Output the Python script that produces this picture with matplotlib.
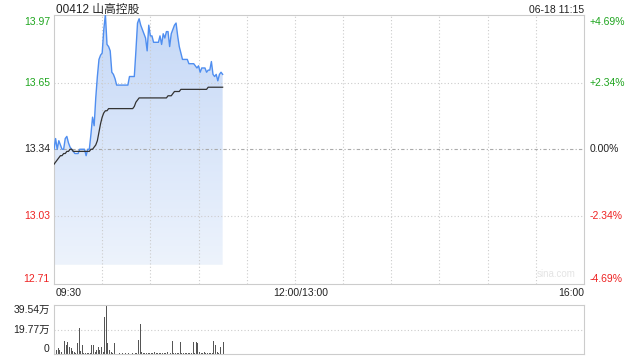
import numpy as np
import matplotlib.pyplot as plt
from matplotlib.colors import LinearSegmentedColormap
from matplotlib.patches import Polygon

plt.rcParams['font.family'] = ['Liberation Sans', 'Noto Sans CJK SC', 'DejaVu Sans']

title = "00412 山高控股"
stamp = "06-18 11:15"
prev_close = 13.34

# minute prices from 09:30 to 11:15
price = [13.34, 13.39, 13.34, 13.38, 13.36, 13.34, 13.34, 13.39, 13.40, 13.37,
         13.35, 13.34, 13.33, 13.32, 13.32, 13.32, 13.34, 13.34, 13.34, 13.34,
         13.31, 13.34, 13.34, 13.41, 13.49, 13.45, 13.58, 13.68, 13.76, 13.78,
         13.79, 13.90, 13.97, 13.83, 13.82, 13.80, 13.70, 13.69, 13.67, 13.64,
         13.64, 13.64, 13.64, 13.64, 13.64, 13.64, 13.64, 13.68, 13.68, 13.68,
         13.68, 13.80, 13.93, 13.95, 13.92, 13.90, 13.88, 13.86, 13.80, 13.92,
         13.87, 13.87, 13.84, 13.84, 13.84, 13.84, 13.87, 13.83, 13.88, 13.86,
         13.89, 13.89, 13.82, 13.88, 13.90, 13.92, 13.93, 13.87, 13.82, 13.79,
         13.76, 13.76, 13.76, 13.76, 13.74, 13.74, 13.74, 13.74, 13.73, 13.72,
         13.73, 13.70, 13.72, 13.72, 13.72, 13.70, 13.71, 13.71, 13.75, 13.69,
         13.68, 13.69, 13.66, 13.69, 13.70, 13.69]

avg_price = [13.27, 13.28, 13.29, 13.30, 13.31, 13.31, 13.32, 13.32, 13.33, 13.33,
             13.34, 13.34, 13.33, 13.33, 13.33, 13.33, 13.33, 13.33, 13.33, 13.33,
             13.33, 13.33, 13.33, 13.34, 13.34, 13.35, 13.36, 13.38, 13.42, 13.46,
             13.49, 13.51, 13.52, 13.52, 13.53, 13.53, 13.53, 13.53, 13.53, 13.53,
             13.53, 13.53, 13.53, 13.53, 13.53, 13.53, 13.53, 13.53, 13.53, 13.53,
             13.54, 13.56, 13.57, 13.58, 13.58, 13.58, 13.58, 13.58, 13.58, 13.58,
             13.58, 13.58, 13.58, 13.58, 13.58, 13.58, 13.58, 13.58, 13.58, 13.58,
             13.58, 13.59, 13.59, 13.59, 13.60, 13.61, 13.61, 13.61, 13.61, 13.62,
             13.62, 13.62, 13.62, 13.62, 13.62, 13.62, 13.62, 13.62, 13.62, 13.62,
             13.62, 13.62, 13.62, 13.62, 13.62, 13.62, 13.63, 13.63, 13.63, 13.63,
             13.63, 13.63, 13.63, 13.63, 13.63, 13.63]

# volume in 万
volume = [19.5, 3.5, 4.8, 3.0, 2.0, 1.5, 10.7, 7.5, 10.0, 6.0,
          4.8, 2.7, 1.6, 1.0, 8.8, 20.8, 2.7, 7.5, 0.8, 0.8,
          0.8, 0.8, 1.0, 7.0, 7.5, 2.0, 3.5, 5.3, 3.5, 6.0,
          1.5, 30.2, 39.54, 8.8, 3.5, 1.6, 0.8, 8.8, 0.5, 0.4,
          0.5, 0.4, 0.5, 0.4, 0.5, 0.4, 0.5, 0.4, 0.5, 0.4,
          0.5, 0.5, 11.5, 24.0, 1.6, 0.8, 0.6, 1.0, 0.5, 1.2,
          0.6, 0.8, 1.6, 0.5, 1.2, 0.6, 0.8, 1.0, 0.6, 1.2,
          2.0, 3.5, 1.2, 10.7, 0.8, 0.6, 0.8, 1.0, 10.0, 0.6,
          1.2, 0.5, 0.8, 0.6, 1.0, 1.2, 10.0, 0.8, 9.4, 8.8,
          1.6, 0.6, 0.8, 2.0, 0.6, 1.0, 0.8, 0.6, 1.0, 10.7,
          7.5, 1.6, 0.8, 5.3, 0.6, 10.0]

price_ticks = [13.97, 13.65, 13.34, 13.03, 12.71]
pct_labels = ["+4.69%", "+2.34%", "0.00%", "-2.34%", "-4.69%"]
vol_ticks = [39.54, 19.77, 0]
vol_labels = ["39.54万", "19.77万", "0"]
time_labels = ["09:30", "12:00/13:00", "16:00"]

GREEN = '#1ea51e'
RED = '#ee2222'
tick_colors = [GREEN, GREEN, '#222222', RED, RED]

t = np.arange(len(price))
total_minutes = 330

fig = plt.figure(figsize=(6.4, 3.6), dpi=100)
W, H = 640, 360
ax = fig.add_axes([54 / W, 1 - 284 / H, 530 / W, (284 - 14.5) / H])
axv = fig.add_axes([54 / W, 1 - 354 / H, 530 / W, 49 / H])

lo, hi = price_ticks[-1], price_ticks[0]
ax.set_xlim(0, total_minutes)
ax.set_ylim(lo, hi)

# grid (drawn over the fill)
for m in range(30, total_minutes, 30):
    ax.axvline(m, color='#cccccc', lw=0.8, ls=(0, (1, 2)), zorder=2)
for p in price_ticks[1:-1]:
    if p == prev_close:
        ax.axhline(p, color='#aaaaaa', lw=0.8, ls=(0, (3, 2, 1, 2)), zorder=2)
    else:
        ax.axhline(p, color='#cccccc', lw=0.8, ls=(0, (1, 2)), zorder=2)

# gradient fill under the price line
fill_floor = 12.80
cmap = LinearSegmentedColormap.from_list('fill', ['#edf3fc', '#c5d8f7'])
grad = np.linspace(0, 1, 256).reshape(-1, 1)
img = ax.imshow(grad, cmap=cmap, aspect='auto', origin='lower',
                extent=[0, t[-1], fill_floor, hi], zorder=1)
verts = [(0, fill_floor)] + list(zip(t, price)) + [(t[-1], fill_floor)]
poly = Polygon(verts, closed=True, facecolor='none', edgecolor='none')
ax.add_patch(poly)
img.set_clip_path(poly)

ax.plot(t, price, color='#4f8ef0', lw=1.0, zorder=3)
ax.plot(t, avg_price, color='#333333', lw=0.9, zorder=3)

ax.set_xticks([])
ax.set_yticks([])
for s in ax.spines.values():
    s.set_color('#cccccc')
    s.set_linewidth(0.8)

# price labels
n = len(price_ticks)
for i, (p, lab, c) in enumerate(zip(price_ticks, pct_labels, tick_colors)):
    va = 'top' if i == 0 else ('bottom' if i == n - 1 else 'center')
    dy = -2 if i == 0 else 0
    ax.annotate(f"{p:.2f}", xy=(0, p), xytext=(-3, dy), textcoords='offset points',
                ha='right', va=va, color=c, fontsize=7.5, annotation_clip=False)
    ax.annotate(lab, xy=(total_minutes, p), xytext=(4, dy), textcoords='offset points',
                ha='left', va=va, color=c, fontsize=7.5, annotation_clip=False)

ax.text(0.004, 1.006, title, transform=ax.transAxes, ha='left', va='baseline',
        fontsize=8.5, color='#222222')
ax.text(1.0, 1.006, stamp, transform=ax.transAxes, ha='right', va='baseline',
        fontsize=7.5, color='#222222')
ax.text(0.985, 0.02, "sina.com", transform=ax.transAxes, ha='right', va='bottom',
        fontsize=7, color='#e4e4e4')

# time labels
ax.annotate(time_labels[0], xy=(0, lo), xytext=(1, -3), textcoords='offset points',
            ha='left', va='top', fontsize=7.5, color='#222222', annotation_clip=False)
ax.annotate(time_labels[1], xy=(150, lo), xytext=(4, -3), textcoords='offset points',
            ha='center', va='top', fontsize=7.5, color='#222222', annotation_clip=False)
ax.annotate(time_labels[2], xy=(total_minutes, lo), xytext=(0, -3), textcoords='offset points',
            ha='right', va='top', fontsize=7.5, color='#222222', annotation_clip=False)

# volume panel
axv.set_xlim(0, total_minutes)
axv.set_ylim(0, vol_ticks[0])
axv.axhline(vol_ticks[1], color='#cccccc', lw=0.8, ls=(0, (1, 2)), zorder=0)
axv.bar(t + 0.3, volume, width=0.6, align='edge', color='#555555', zorder=2)
axv.set_xticks([])
axv.set_yticks([])
for s in axv.spines.values():
    s.set_color('#cccccc')
    s.set_linewidth(0.8)
for i, (v, lab) in enumerate(zip(vol_ticks, vol_labels)):
    va = 'top' if i == 0 else ('bottom' if i == len(vol_ticks) - 1 else 'center')
    axv.annotate(lab, xy=(0, v), xytext=(-3, 0), textcoords='offset points',
                 ha='right', va=va, color='#222222', fontsize=7.5, annotation_clip=False)

fig.savefig('out.png', dpi=100)
